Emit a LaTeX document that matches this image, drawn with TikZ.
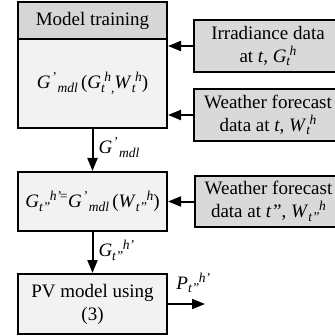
\documentclass[tikz,border=0pt]{standalone}
\usepackage{fontspec}
\setmainfont{Liberation Serif}
\usetikzlibrary{arrows.meta}
\definecolor{hdrgray}{RGB}{214,214,214}
\definecolor{lightbox}{RGB}{242,242,242}
\definecolor{inputgray}{RGB}{217,217,217}
% staggered sub- and superscripts in the equation style of the figure
\newcommand{\scr}{\fontsize{13.5}{14}\selectfont\itshape}
\newcommand{\lo}[1]{\raisebox{-3.5pt}{\scr #1}}
\newcommand{\hi}[1]{\raisebox{7pt}{\scr #1}}
% symbol with subscript first, superscript after it
\newcommand{\sv}[3]{\textit{#1}\lo{#3}\kern-0.5pt\hi{#2}}
% symbol with prime first, subscript after it
\newcommand{\pv}[2]{\textit{#1}\kern1pt\hi{'}\kern1.5pt\lo{#2}}
\begin{document}
\begin{tikzpicture}[x=1pt,y=-1pt,
  font=\fontsize{19}{23}\selectfont,
  blk/.style={draw=black, line width=2pt, inner sep=0pt, align=center},
  arr/.style={line width=2pt, -{Triangle[length=13pt,width=10pt]}},
  lbl/.style={inner sep=0pt, anchor=base west}]
\useasboundingbox (0,0) rectangle (334,336);

% left column
\node[blk, fill=hdrgray, minimum width=149, minimum height=37] (head) at (92.5,20.5) {Model training};
\node[blk, fill=lightbox, minimum width=149, minimum height=89] (train) at (92.5,83.5)
  {\pv{G}{mdl}\,(\sv{G}{h}{t}\lo{,}\sv{W}{h}{t})};
\node[blk, fill=lightbox, minimum width=149, minimum height=59] (pred) at (92.5,201.5)
  {\sv{G}{h'}{t''}\kern-2pt\hi{=}\pv{G}{mdl}\,(\sv{W}{h}{t''})};
\node[blk, fill=lightbox, minimum width=149, minimum height=60] (pv) at (92.5,304)
  {PV model using\\(3)};

% input data boxes
\node[blk, fill=inputgray, minimum width=148, minimum height=52] (irr) at (268,46)
  {Irradiance data\\at \textit{t}, \sv{G}{h}{t}};
\node[blk, fill=inputgray, minimum width=148, minimum height=52] (wf) at (268,115)
  {Weather forecast\\data at \textit{t}, \sv{W}{h}{t}};
\node[blk, fill=inputgray, minimum width=147, minimum height=51] (wfn) at (268.5,201.5)
  {Weather forecast\\data at \textit{t''}, \sv{W}{h}{t''}};

% connectors
\draw[arr] (irr.west) -- (irr.west -| train.east);
\draw[arr] (wf.west) -- (wf.west -| train.east);
\draw[arr] (wfn.west) -- (wfn.west -| pred.east);
\draw[arr] (train.south) -- (pred.north) node[lbl, pos=0.5, xshift=5pt, yshift=-4pt] {\pv{G}{mdl}};
\draw[arr] (pred.south) -- (pv.north) node[lbl, pos=0.5, xshift=5pt, yshift=-4pt] {\sv{G}{h'}{t''}};
\coordinate (out) at (205,304);
\draw[arr] (pv.east) -- (out) node[lbl, pos=0.2, yshift=15pt] {\sv{P}{h'}{t''}};
\end{tikzpicture}
\end{document}
